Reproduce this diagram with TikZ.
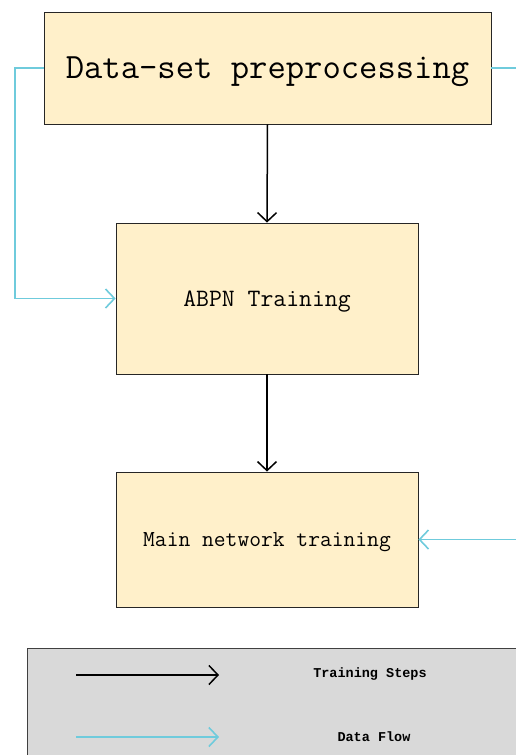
\documentclass[tikz,border=0pt]{standalone}
\usepackage{fontspec}
\setmonofont{Latin Modern Mono}
\newfontfamily\legfont{Liberation Mono}
\usetikzlibrary{arrows.meta}
\definecolor{boxfill}{HTML}{FFF0CA}
\definecolor{flowc}{HTML}{6FCBDC}
\definecolor{legfill}{HTML}{D9D9D9}
\tikzset{
  stepbox/.style={draw=black!85, line width=0.8pt, fill=boxfill, rectangle, inner sep=0pt, text depth=0pt, font=\ttfamily},
  trainarrow/.style={draw=black, line width=1.5pt, -{Straight Barb[length=9pt,width=19pt,line width=1.5pt]}},
  flowarrow/.style={draw=flowc, line width=1.6pt, -{Straight Barb[length=9pt,width=19pt,line width=1.6pt]}},
  flowline/.style={draw=flowc, line width=1.6pt},
  legtext/.style={font=\legfont\bfseries\fontsize{13.5}{15}\selectfont, text=black}
}
\begin{document}
\begin{tikzpicture}[x=1pt,y=-1pt]
\useasboundingbox (0,0) rectangle (516,755);
\clip (0,0) rectangle (516,755);
% boxes
\node[stepbox, minimum width=447pt, minimum height=112pt, font=\ttfamily\fontsize{35.6}{40}\selectfont] (pre) at (267.5,68) {Data-set preprocessing};
\node[stepbox, minimum width=302pt, minimum height=151pt, font=\ttfamily\fontsize{25}{28}\selectfont] (abpn) at (267,298.5) {ABPN Training};
\node[stepbox, minimum width=302pt, minimum height=135pt, font=\ttfamily\fontsize{22.9}{26}\selectfont] (main) at (267,539.5) {Main network training};
% training steps
\draw[trainarrow] (pre.south) -- (abpn.north);
\draw[trainarrow] (abpn.south) -- (main.north);
% data flow
\coordinate (lc) at (15,68);
\coordinate (lb) at (15,298.5);
\draw[flowarrow] (pre.west) -- (lc) -- (lb) -- (abpn.west);
\coordinate (rc) at (560,68);
\coordinate (rb) at (560,539.5);
\draw[flowline] (pre.east) -- (rc);
\draw[flowarrow] (rb) -- (main.east);
% legend
\node[draw=black!75, line width=0.8pt, fill=legfill, rectangle, anchor=north west, minimum width=560pt, minimum height=150pt] (leg) at (27,648) {};
\coordinate (a1s) at (76,675);
\coordinate (a1e) at (219,675);
\coordinate (a2s) at (76,737);
\coordinate (a2e) at (219,737);
\draw[trainarrow] (a1s) -- (a1e);
\draw[flowarrow] (a2s) -- (a2e);
\node[legtext] (lt1) at (370,674) {Training Steps};
\node[legtext] (lt2) at (374,737) {Data Flow};
\end{tikzpicture}
\end{document}
